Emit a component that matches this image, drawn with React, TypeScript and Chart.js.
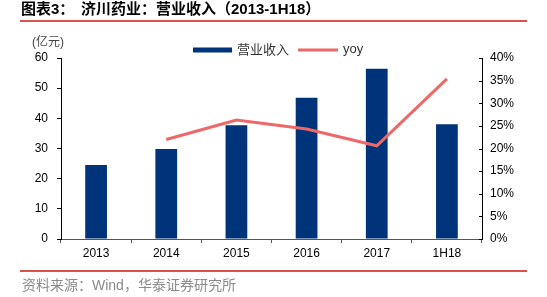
import React, { useEffect, useRef } from "react";
import { Chart, registerables } from "chart.js";

Chart.register(...registerables);

const categories = ["2013", "2014", "2015", "2016", "2017", "1H18"];
const revenue = [24.5, 29.8, 37.7, 46.8, 56.4, 38.0];
const yoy = [null, 22.0, 26.3, 24.3, 20.6, 35.4];
const leftTicks = [0, 10, 20, 30, 40, 50, 60];
const rightTicks = [0, 5, 10, 15, 20, 25, 30, 35, 40];

const titleLead = "图表3：";
const titleMain = "济川药业：营业收入（2013-1H18）";
const unitLabel = "(亿元)";
const sourceText = "资料来源：Wind，华泰证券研究所";
const seriesNames = ["营业收入", "yoy"];

const NAVY = "#00347A";
const RED = "#EF6868";
const RULE = "#D9534A";
const FONT = "'Liberation Sans', 'Noto Sans CJK SC', sans-serif";

const decorPlugin = {
  id: "decor",
  afterDraw(chart: any) {
    const ctx = chart.ctx as CanvasRenderingContext2D;
    ctx.save();
    // title
    ctx.fillStyle = "#000";
    ctx.textBaseline = "middle";
    ctx.font = `bold 15px ${FONT}`;
    ctx.fillText(titleLead, 21, 10);
    ctx.fillText(titleMain, 81, 10);
    // rules
    ctx.fillStyle = RULE;
    ctx.fillRect(20, 20, 507, 2);
    ctx.fillRect(20, 270, 507, 2);
    // source
    ctx.fillStyle = "#8a8a8a";
    ctx.font = `14px ${FONT}`;
    ctx.fillText(sourceText, 22, 286);
    // unit
    ctx.fillStyle = "#444";
    ctx.font = `12px ${FONT}`;
    ctx.fillText(unitLabel, 32, 43);
    // legend
    ctx.fillStyle = NAVY;
    ctx.fillRect(193, 47.5, 39, 5);
    ctx.fillStyle = "#333";
    ctx.font = `13px ${FONT}`;
    ctx.fillText(seriesNames[0], 237, 50);
    ctx.strokeStyle = RED;
    ctx.lineWidth = 3;
    ctx.beginPath();
    ctx.moveTo(298, 50);
    ctx.lineTo(338, 50);
    ctx.stroke();
    ctx.fillStyle = "#333";
    ctx.fillText(seriesNames[1], 343, 49);
    // inward ticks on right axis
    const r = chart.scales.y1;
    ctx.strokeStyle = "#000";
    ctx.lineWidth = 1;
    ctx.beginPath();
    r.ticks.forEach((_t: any, i: number) => {
      const y = Math.round(r.getPixelForTick(i)) + 0.5;
      ctx.moveTo(r.left - 3, y);
      ctx.lineTo(r.left, y);
    });
    ctx.stroke();
    ctx.restore();
  },
};

function fixPad(scale: any) {
  scale.paddingTop = 0;
  scale.paddingBottom = 0;
  scale.paddingLeft = 0;
  scale.paddingRight = 0;
}

export default function App() {
  const ref = useRef<HTMLCanvasElement | null>(null);
  useEffect(() => {
    document.body.style.margin = "0";
    if (!ref.current) return;
    const chart = new Chart(ref.current, {
      data: {
        labels: categories,
        datasets: [
          {
            type: "line",
            label: seriesNames[1],
            data: yoy,
            yAxisID: "y1",
            borderColor: RED,
            borderWidth: 3,
            pointRadius: 0,
            tension: 0,
            spanGaps: false,
            order: 0,
          } as any,
          {
            type: "bar",
            label: seriesNames[0],
            data: revenue,
            yAxisID: "y",
            backgroundColor: NAVY,
            categoryPercentage: 1,
            barPercentage: 0.31,
            order: 1,
          } as any,
        ],
      },
      options: {
        animation: false,
        responsive: false,
        maintainAspectRatio: false,
        layout: { padding: { top: 58, bottom: 38, left: 0, right: 0 } },
        plugins: { legend: { display: false }, tooltip: { enabled: false }, title: { display: false } },
        scales: {
          x: {
            offset: true,
            grid: { display: true, drawOnChartArea: false, drawTicks: true, tickLength: 4, color: "#555", offset: true },
            border: { display: true, color: "#555" },
            ticks: { color: "#000", font: { size: 12, family: FONT }, padding: 3, maxRotation: 0 },
            afterFit: (s: any) => { s.height = 20; fixPad(s); },
          },
          y: {
            position: "left",
            min: 0,
            max: 60,
            afterBuildTicks: (s: any) => { s.ticks = leftTicks.map((v) => ({ value: v })); },
            grid: { display: true, drawOnChartArea: false, drawTicks: true, tickLength: 4, color: "#000" },
            border: { display: true, color: "#000" },
            ticks: { color: "#000", font: { size: 12, family: FONT }, padding: 9 },
            afterFit: (s: any) => { s.width = 61; fixPad(s); },
          },
          y1: {
            position: "right",
            min: 0,
            max: 40,
            afterBuildTicks: (s: any) => { s.ticks = rightTicks.map((v) => ({ value: v })); },
            grid: { display: true, drawOnChartArea: false, drawTicks: false },
            border: { display: true, color: "#000" },
            ticks: { color: "#000", font: { size: 12, family: FONT }, padding: 8, callback: (v: any) => `${v}%` },
            afterFit: (s: any) => { s.width = 65; fixPad(s); },
          },
        },
      },
      plugins: [decorPlugin],
    } as any);
    return () => chart.destroy();
  }, []);
  return (
    <div style={{ position: "relative", width: 547, height: 297, background: "#fff" }}>
      <canvas ref={ref} width={547} height={297} style={{ display: "block", width: 547, height: 297 }} />
    </div>
  );
}
